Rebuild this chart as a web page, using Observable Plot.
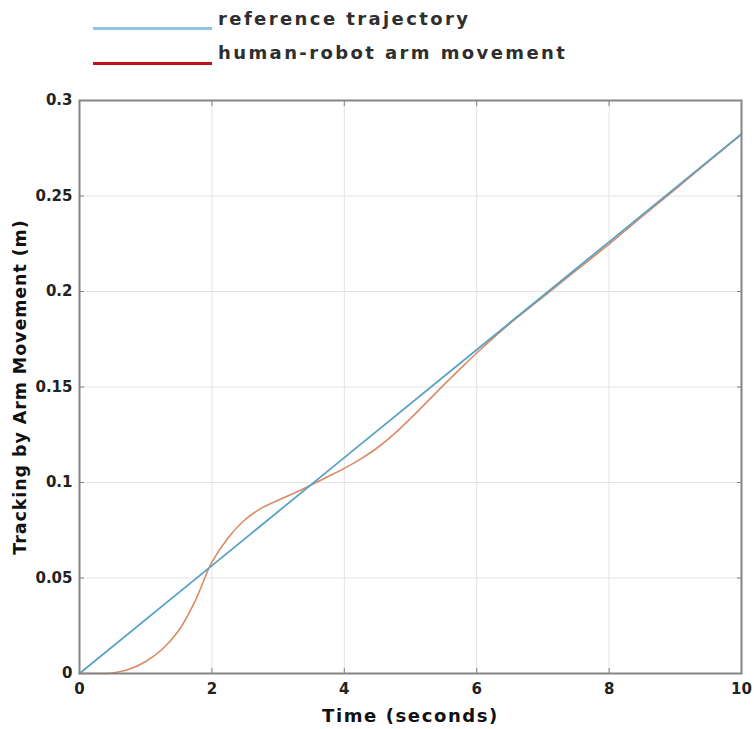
<!DOCTYPE html>
<html>
<head>
<meta charset="utf-8">
<script src="https://cdn.jsdelivr.net/npm/d3@7"></script>
<script src="https://cdn.jsdelivr.net/npm/@observablehq/plot@0.6"></script>
<style>
  html, body { margin: 0; padding: 0; background: #fff; }
  #wrap { width: 754px; }
  #legend { position: relative; width: 754px; height: 80px; font-family: "DejaVu Sans", sans-serif; font-weight: bold; font-size: 18px; letter-spacing: 2.4px; color: #2e2e2e; }
  .lg-line { position: absolute; left: 93px; width: 119px; height: 3px; }
  .lg-text { position: absolute; left: 218px; line-height: 1; white-space: nowrap; }
  svg { display: block; }
</style>
</head>
<body>
<div id="wrap">
  <div id="legend"></div>
  <div id="chart"></div>
</div>
<script>
// ---- data ----
const seriesNames = ["reference trajectory", "human-robot arm movement"];
const legendColors = ["#8ec5e3", "#b8151d"];
const lineColors = ["#5aa2c4", "#da8a66"];

const refTime = [0, 2, 4, 6, 8, 10];
const refValue = [0, 0.0565, 0.113, 0.1695, 0.226, 0.2825];

const armTime = [0, 0.25, 0.5, 0.75, 1.0, 1.25, 1.5, 1.75, 2.0, 2.25, 2.5, 2.75, 3.0, 3.25, 3.5, 3.75, 4.0, 4.25, 4.5, 4.75, 5.0, 5.25, 5.5, 5.75, 6.0, 6.5, 7.0, 7.5, 8.0, 8.5, 9.0, 9.5, 10];
const armValue = [0, 0, 0.0003, 0.0022, 0.0063, 0.0127, 0.0225, 0.0382, 0.0583, 0.0712, 0.0805, 0.0866, 0.0907, 0.0945, 0.0987, 0.1030, 0.1074, 0.1124, 0.1182, 0.1253, 0.1335, 0.1422, 0.151, 0.1595, 0.1678, 0.1832, 0.197, 0.211, 0.2248, 0.2393, 0.2535, 0.268, 0.2822];

const xTicks = [0, 2, 4, 6, 8, 10];
const yTicks = [0, 0.05, 0.1, 0.15, 0.2, 0.25, 0.3];
const xLabel = "Time (seconds)";
const yLabel = "Tracking by Arm Movement (m)";

// ---- legend ----
const legend = document.getElementById("legend");
const legendLineTops = [27, 62];
const legendTextTops = [10, 44];
seriesNames.forEach((name, i) => {
  const ln = document.createElement("div");
  ln.className = "lg-line";
  ln.style.top = legendLineTops[i] + "px";
  ln.style.background = legendColors[i];
  legend.appendChild(ln);
  const tx = document.createElement("div");
  tx.className = "lg-text";
  tx.style.top = legendTextTops[i] + "px";
  tx.textContent = name;
  legend.appendChild(tx);
});

// ---- chart ----
const refData = refTime.map((t, i) => ({t, v: refValue[i]}));
const armData = armTime.map((t, i) => ({t, v: armValue[i]}));

const font = "DejaVu Sans, sans-serif";
const tickColor = "#808080";

const chart = Plot.plot({
  width: 754,
  height: 649,
  marginTop: 20,
  marginBottom: 56,
  marginLeft: 79,
  marginRight: 13,
  style: {fontFamily: font, fontSize: "15px", fontWeight: "bold", color: "#222", background: "#fff"},
  x: {domain: [0, 10]},
  y: {domain: [0, 0.3]},
  marks: [
    Plot.gridX(xTicks, {stroke: "#e3e3e3", strokeOpacity: 1, strokeWidth: 1}),
    Plot.gridY(yTicks, {stroke: "#e3e3e3", strokeOpacity: 1, strokeWidth: 1}),
    Plot.line(armData, {x: "t", y: "v", stroke: lineColors[1], strokeWidth: 1.6, curve: "catmull-rom"}),
    Plot.line(refData, {x: "t", y: "v", stroke: lineColors[0], strokeWidth: 1.8}),
    // inward tick marks on all four sides
    Plot.axisX(xTicks, {anchor: "bottom", tickSize: 5, dy: -5, text: null, label: null, stroke: tickColor}),
    Plot.axisX(xTicks, {anchor: "top", tickSize: 5, dy: 5, text: null, label: null, stroke: tickColor}),
    Plot.axisY(yTicks, {anchor: "left", tickSize: 5, dx: 5, text: null, label: null, stroke: tickColor}),
    Plot.axisY(yTicks, {anchor: "right", tickSize: 5, dx: -5, text: null, label: null, stroke: tickColor}),
    // tick labels
    Plot.axisX(xTicks, {anchor: "bottom", tickSize: 0, tickPadding: 10, label: null, tickFormat: d => String(d), fontSize: 15, fontWeight: "bold", fill: "#222"}),
    Plot.axisY(yTicks, {anchor: "left", tickSize: 0, tickPadding: 7, label: null, tickFormat: d => String(d), fontSize: 15, fontWeight: "bold", fill: "#222"}),
    Plot.frame({stroke: "#858585", strokeWidth: 2}),
    // axis titles
    Plot.text([xLabel], {frameAnchor: "bottom", dy: 43, text: d => d, fontSize: 18, fontWeight: "bold", fill: "#111", lineAnchor: "middle", textAnchor: "middle"}),
    Plot.text([yLabel], {frameAnchor: "left", dx: -59, rotate: -90, text: d => d, fontSize: 17.5, fontWeight: "bold", fill: "#111", lineAnchor: "middle", textAnchor: "middle"})
  ]
});
document.getElementById("chart").appendChild(chart);
// widen axis titles slightly to match the reference's wide lettering
d3.select(chart).selectAll("text").filter(function() { return this.textContent === xLabel; }).style("letter-spacing", "1.6px");
d3.select(chart).selectAll("text").filter(function() { return this.textContent === yLabel; }).style("letter-spacing", "0.9px");
</script>
</body>
</html>
